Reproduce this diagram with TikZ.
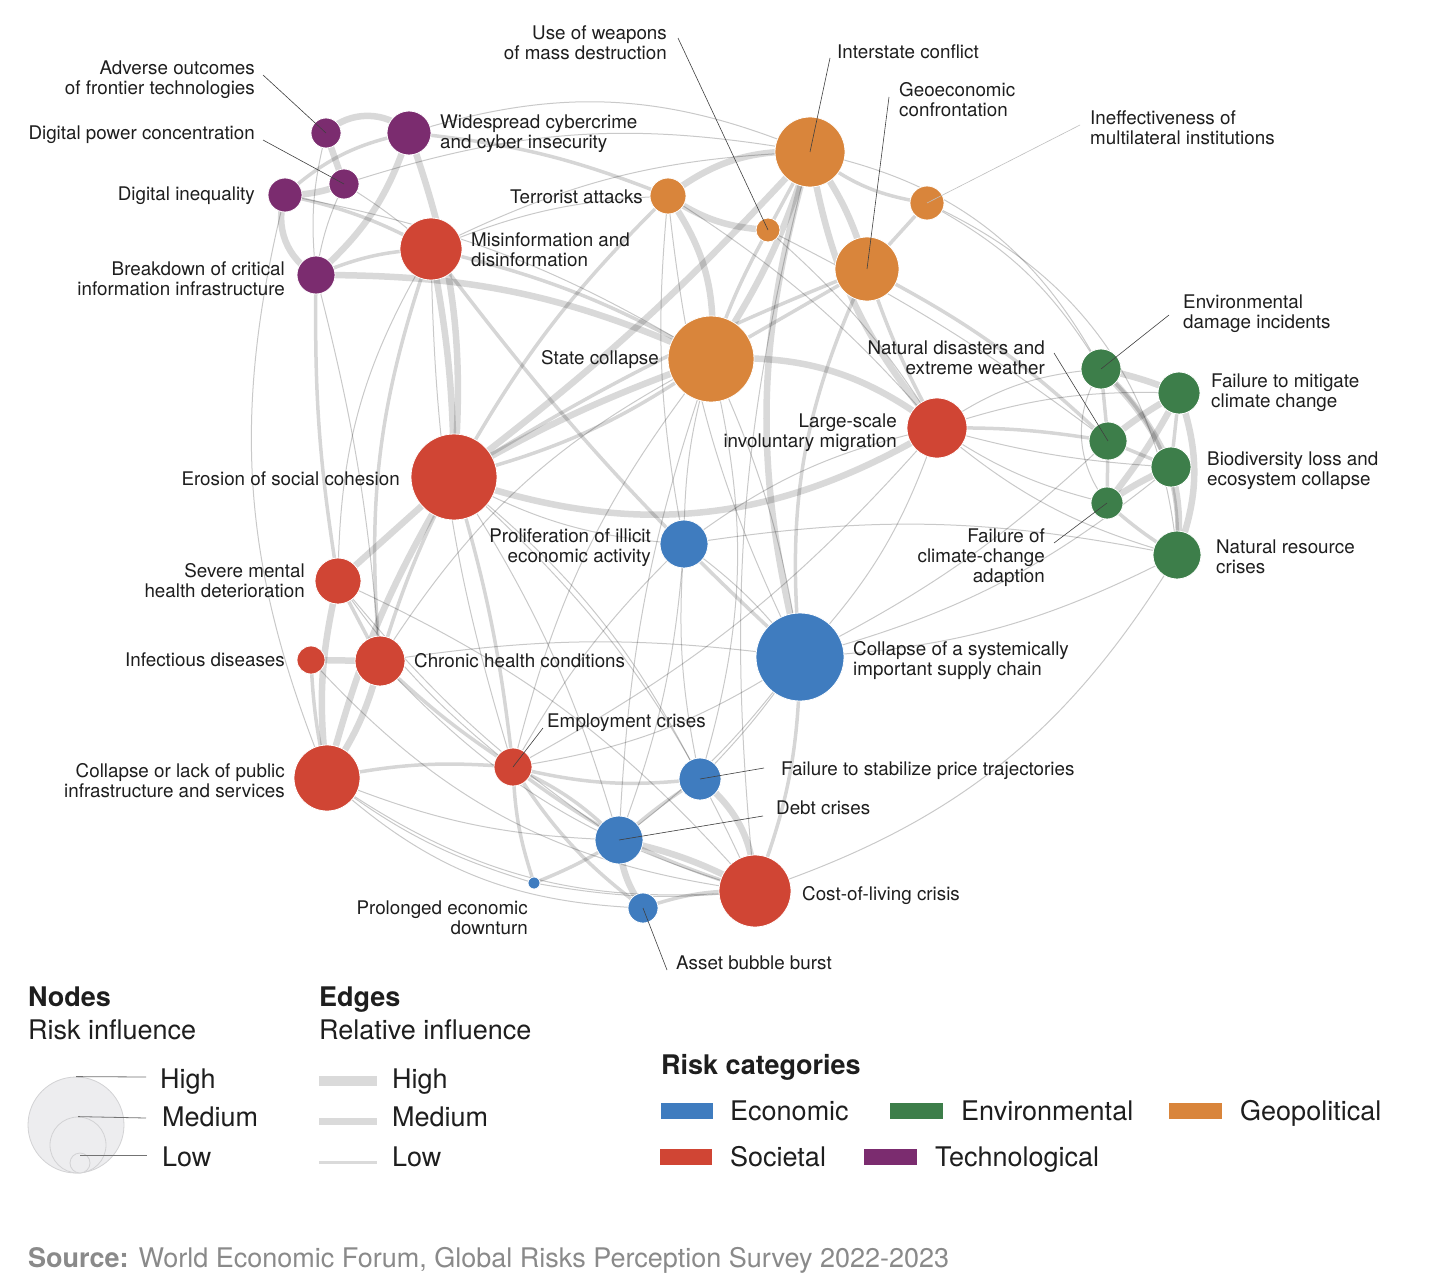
\documentclass[tikz,border=0pt]{standalone}
\usepackage{fontspec}
\setmainfont{TeX Gyre Heros}
\usetikzlibrary{backgrounds}
\definecolor{cEco}{HTML}{3F7CBF}
\definecolor{cEnv}{HTML}{3D7E4A}
\definecolor{cGeo}{HTML}{D9853B}
\definecolor{cSoc}{HTML}{D04534}
\definecolor{cTec}{HTML}{7B2C6F}
\definecolor{txt}{HTML}{1E1E1E}
\definecolor{srcgray}{HTML}{8A8A8A}
\definecolor{lgfill}{HTML}{EDEDEF}
\definecolor{lgdraw}{HTML}{D2D2D4}
\definecolor{swgray}{HTML}{DADADA}
\newcommand\E[4]{\draw[#1] (#2.center) to[#3] (#4.center);}
\begin{document}
\begin{tikzpicture}[x=1pt,y=-1pt,
  risk/.style={circle,inner sep=0pt,draw=white,line width=0.8pt,minimum size=#1},
  lbl/.style={font=\fontsize{18.8}{20}\selectfont,text=txt,inner sep=0pt},
  lr/.style={lbl,anchor=east,align=right},
  ll/.style={lbl,anchor=west,align=left},
  one/.style={text height=14pt,text depth=4pt},
  leader/.style={draw=black!75,line width=0.6pt},
  A/.style={draw=black,draw opacity=0.15,line width=6.5pt},
  B/.style={draw=black,draw opacity=0.16,line width=3.5pt},
  C/.style={draw=black,draw opacity=0.21,line width=1pt},
  lgt/.style={font=\fontsize{27}{30}\selectfont,text=txt,inner sep=0pt,anchor=west,text height=20pt,text depth=6pt},
  lgh/.style={font=\fontsize{27}{30}\selectfont\bfseries,text=txt,inner sep=0pt,anchor=west,text height=20pt,text depth=6pt},
  lgc/.style={circle,inner sep=0pt,draw=lgdraw,fill=lgfill,line width=0.8pt,minimum size=#1},
  lgl/.style={draw=black!55,line width=0.8pt}
]
\useasboundingbox (0,0) rectangle (1456,1276);

% ---------------- nodes ----------------
% Technological
\node[risk=30,fill=cTec] (adv) at (326,133) {};
\node[risk=44,fill=cTec] (cyber) at (409,133) {};
\node[risk=30,fill=cTec] (dpow) at (344,184) {};
\node[risk=34,fill=cTec] (dineq) at (285,195) {};
\node[risk=38,fill=cTec] (brk) at (316,275) {};
% Societal
\node[risk=62,fill=cSoc] (misinfo) at (431,249) {};
\node[risk=86,fill=cSoc] (erosion) at (454,477) {};
\node[risk=60,fill=cSoc] (migr) at (937,428) {};
\node[risk=46,fill=cSoc] (mental) at (338,581) {};
\node[risk=28,fill=cSoc] (infect) at (311,660) {};
\node[risk=50,fill=cSoc] (chronic) at (380,661) {};
\node[risk=66,fill=cSoc] (pubinf) at (327,778) {};
\node[risk=38,fill=cSoc] (employ) at (513,767) {};
\node[risk=72,fill=cSoc] (col) at (755,891) {};
% Geopolitical
\node[risk=36,fill=cGeo] (terror) at (668,196) {};
\node[risk=24,fill=cGeo] (wmd) at (768,230) {};
\node[risk=70,fill=cGeo] (inter) at (810,152) {};
\node[risk=34,fill=cGeo] (ineff) at (927,203) {};
\node[risk=64,fill=cGeo] (geo) at (867,269) {};
\node[risk=86,fill=cGeo] (state) at (711,359) {};
% Environmental
\node[risk=40,fill=cEnv] (envd) at (1101,369) {};
\node[risk=42,fill=cEnv] (mitig) at (1179,393) {};
\node[risk=38,fill=cEnv] (natd) at (1108,441) {};
\node[risk=40,fill=cEnv] (biod) at (1171,467) {};
\node[risk=32,fill=cEnv] (adapt) at (1107,503) {};
\node[risk=48,fill=cEnv] (natres) at (1177,555) {};
% Economic
\node[risk=48,fill=cEco] (illicit) at (684,544) {};
\node[risk=88,fill=cEco] (supply) at (800,657) {};
\node[risk=42,fill=cEco] (price) at (700,779) {};
\node[risk=48,fill=cEco] (debt) at (619,840) {};
\node[risk=12,fill=cEco] (prolong) at (534,883) {};
\node[risk=30,fill=cEco] (asset) at (643,908) {};

% ---------------- edges ----------------
\begin{pgfonlayer}{background}
\fill[white] (0,0) rectangle (1456,1276);
% technological
\E{A}{adv}{bend left=45}{cyber}
\E{A}{adv}{}{dpow}
\E{A}{dineq}{bend right=10}{dpow}
\E{A}{dineq}{bend right=40}{brk}
\E{A}{cyber}{bend left=15}{brk}
\E{B}{dineq}{bend left=15}{cyber}
\E{C}{dpow}{bend right=8}{brk}
\E{C}{adv}{bend right=10}{brk}
\E{B}{dineq}{bend left=8}{misinfo}
\E{C}{dpow}{bend left=5}{misinfo}
\E{B}{brk}{bend left=10}{misinfo}
\E{A}{cyber}{bend left=12}{erosion}
\E{A}{brk}{bend left=12}{state}
\E{C}{dineq}{bend right=18}{pubinf}
\E{B}{brk}{bend right=5}{mental}
\E{C}{brk}{bend left=5}{chronic}
\E{C}{dineq}{bend left=10}{state}
\E{B}{cyber}{bend left=8}{terror}
\E{C}{cyber}{bend left=20}{inter}
\E{C}{dpow}{bend left=14}{inter}
% misinformation
\E{A}{misinfo}{bend left=5}{erosion}
\E{C}{misinfo}{bend left=10}{terror}
\E{B}{misinfo}{bend left=8}{state}
\E{C}{misinfo}{bend left=12}{inter}
\E{B}{misinfo}{bend right=12}{chronic}
\E{C}{misinfo}{bend right=15}{mental}
\E{B}{misinfo}{bend right=5}{supply}
\E{C}{misinfo}{bend right=8}{employ}
% erosion
\E{A}{erosion}{bend left=5}{state}
\E{B}{erosion}{bend right=10}{state}
\E{A}{erosion}{bend right=5}{inter}
\E{A}{erosion}{bend right=25}{migr}
\E{A}{erosion}{}{mental}
\E{A}{erosion}{bend right=8}{pubinf}
\E{B}{erosion}{bend right=5}{chronic}
\E{B}{erosion}{bend left=5}{employ}
\E{C}{erosion}{bend left=12}{col}
\E{C}{erosion}{bend right=12}{illicit}
\E{B}{erosion}{bend left=8}{terror}
\E{C}{erosion}{bend left=12}{price}
\E{C}{erosion}{bend left=8}{debt}
\E{B}{erosion}{bend left=5}{geo}
% state collapse
\E{A}{state}{bend right=20}{terror}
\E{A}{state}{bend right=8}{inter}
\E{B}{state}{}{geo}
\E{A}{state}{bend left=20}{migr}
\E{C}{state}{bend right=8}{illicit}
\E{C}{state}{bend left=8}{supply}
\E{C}{state}{bend right=12}{employ}
\E{C}{state}{bend right=15}{chronic}
\E{B}{state}{bend left=5}{wmd}
\E{C}{state}{bend right=8}{debt}
\E{C}{state}{bend left=15}{price}
% geopolitical
\E{A}{terror}{bend left=20}{inter}
\E{A}{terror}{bend right=15}{wmd}
\E{B}{inter}{}{wmd}
\E{A}{inter}{bend left=10}{geo}
\E{B}{inter}{bend right=15}{ineff}
\E{B}{geo}{}{ineff}
\E{A}{inter}{bend right=15}{migr}
\E{A}{inter}{bend right=15}{supply}
\E{B}{geo}{bend right=15}{supply}
\E{C}{inter}{bend right=10}{col}
\E{B}{geo}{bend right=5}{migr}
\E{B}{geo}{bend left=8}{natd}
\E{C}{ineff}{bend left=30}{natres}
\E{C}{ineff}{bend left=15}{envd}
\E{C}{inter}{bend left=25}{envd}
\E{C}{terror}{bend right=8}{illicit}
\E{C}{wmd}{bend left=8}{migr}
\E{C}{wmd}{bend left=5}{natd}
\E{C}{terror}{bend left=8}{migr}
\E{C}{terror}{bend right=10}{supply}
% migration
\E{B}{migr}{bend left=5}{natd}
\E{C}{migr}{bend left=15}{envd}
\E{C}{migr}{bend right=10}{adapt}
\E{C}{migr}{bend right=12}{natres}
\E{C}{migr}{bend left=10}{mitig}
\E{C}{migr}{bend left=12}{supply}
\E{C}{migr}{bend right=12}{illicit}
\E{C}{migr}{bend left=10}{employ}
\E{C}{migr}{bend right=6}{biod}
% environmental
\E{A}{envd}{bend left=5}{mitig}
\E{A}{envd}{bend left=10}{biod}
\E{B}{envd}{}{natd}
\E{C}{envd}{bend right=35}{adapt}
\E{A}{mitig}{bend right=5}{natd}
\E{B}{mitig}{}{biod}
\E{A}{mitig}{bend left=20}{natres}
\E{A}{mitig}{bend left=5}{adapt}
\E{B}{natd}{}{biod}
\E{B}{natd}{}{adapt}
\E{A}{biod}{bend left=10}{natres}
\E{A}{biod}{bend right=5}{adapt}
\E{B}{adapt}{bend right=5}{natres}
\E{B}{envd}{bend left=25}{natres}
\E{C}{natres}{bend left=20}{col}
\E{C}{natres}{bend left=12}{supply}
\E{C}{natd}{bend left=8}{supply}
\E{C}{biod}{bend left=12}{supply}
\E{C}{natres}{bend right=10}{illicit}
% economic / societal bottom
\E{B}{supply}{bend left=10}{col}
\E{C}{supply}{bend left=12}{employ}
\E{C}{supply}{bend left=8}{debt}
\E{C}{supply}{bend left=5}{price}
\E{C}{supply}{bend right=8}{illicit}
\E{C}{supply}{bend right=8}{chronic}
\E{A}{price}{bend left=25}{col}
\E{B}{price}{bend right=5}{debt}
\E{B}{price}{bend left=10}{employ}
\E{A}{debt}{bend left=8}{col}
\E{A}{debt}{bend right=15}{asset}
\E{B}{debt}{bend left=5}{prolong}
\E{B}{debt}{bend right=10}{employ}
\E{B}{asset}{bend left=10}{col}
\E{B}{asset}{bend left=10}{employ}
\E{B}{employ}{bend right=10}{col}
\E{B}{employ}{bend right=8}{prolong}
\E{B}{employ}{bend right=8}{pubinf}
\E{B}{employ}{bend left=5}{chronic}
\E{C}{employ}{bend left=8}{mental}
\E{C}{prolong}{bend right=8}{col}
\E{C}{prolong}{bend left=10}{pubinf}
\E{A}{chronic}{}{infect}
\E{B}{chronic}{}{mental}
\E{A}{chronic}{bend left=10}{pubinf}
\E{B}{infect}{bend right=5}{pubinf}
\E{A}{mental}{bend right=10}{pubinf}
\E{C}{mental}{bend left=12}{col}
\E{C}{pubinf}{bend right=20}{col}
\E{C}{pubinf}{bend right=10}{debt}
\E{C}{illicit}{bend right=8}{employ}
\E{C}{illicit}{bend left=8}{debt}
\E{C}{illicit}{bend right=8}{price}
\E{C}{chronic}{bend right=15}{col}
\E{C}{mental}{bend right=8}{debt}
\E{C}{infect}{bend right=20}{col}
\E{C}{asset}{bend left=20}{pubinf}
\end{pgfonlayer}

% ---------------- leader lines ----------------
\coordinate (advL) at (263,75);
\coordinate (dpowL) at (263,140);
\coordinate (wmdL) at (678,38);
\coordinate (interL) at (830,58);
\coordinate (geoL) at (889,97);
\coordinate (ineffL) at (1080,125);
\coordinate (natdL) at (1054,353);
\coordinate (envdL) at (1169,315);
\coordinate (adaptL) at (1054,543);
\coordinate (employL) at (543,728);
\coordinate (priceL) at (764,768);
\coordinate (debtL) at (763,816);
\coordinate (assetL) at (667,970);
\draw[leader] (advL) -- (adv.center);
\draw[leader] (dpowL) -- (dpow.center);
\draw[leader] (wmdL) -- (wmd.center);
\draw[leader] (interL) -- (inter.center);
\draw[leader] (geoL) -- (geo.center);
\draw[draw=black!25,line width=0.6pt] (ineffL) -- (ineff.center);
\draw[leader] (natdL) -- (natd.center);
\draw[leader] (envdL) -- (envd.center);
\draw[leader] (adaptL) -- (adapt.center);
\draw[leader] (employL) -- (employ.center);
\draw[leader] (priceL) -- (price.center);
\draw[leader] (debtL) -- (debt.center);
\draw[leader] (assetL) -- (asset.center);

% ---------------- labels ----------------
\node[lr] (tadv) at (255,80) {Adverse outcomes\\of frontier technologies};
\node[lr,one] (tdpow) at (255,135) {Digital power concentration};
\node[lr,one] (tdineq) at (255,196) {Digital inequality};
\node[lr] (tbrk) at (285,279) {Breakdown of critical\\information infrastructure};
\node[ll] (tcyber) at (440,134) {Widespread cybercrime\\and cyber insecurity};
\node[ll] (tmisinfo) at (471,250) {Misinformation and\\disinformation};
\node[lr] (twmd) at (667,43) {Use of weapons\\of mass destruction};
\node[ll,one] (tinter) at (837,54) {Interstate conflict};
\node[ll] (tgeo) at (899,100) {Geoeconomic\\confrontation};
\node[ll] (tineff) at (1090,128) {Ineffectiveness of\\multilateral institutions};
\node[lr,one] (tterror) at (643,199) {Terrorist attacks};
\node[lr,one] (tstate) at (659,359) {State collapse};
\node[lr] (tnatd) at (1045,358) {Natural disasters and\\extreme weather};
\node[ll] (tenvd) at (1183,314) {Environmental\\damage incidents};
\node[ll] (tmitig) at (1211,393) {Failure to mitigate\\climate change};
\node[ll] (tbiod) at (1207,471) {Biodiversity loss and\\ecosystem collapse};
\node[ll] (tnatres) at (1216,557) {Natural resource\\crises};
\node[lr] (tadapt) at (1045,558) {Failure of\\climate-change\\adaption};
\node[lr] (tmigr) at (897,433) {Large-scale\\involuntary migration};
\node[lr,one] (terosion) at (400,480) {Erosion of social cohesion};
\node[lr] (tillicit) at (651,548) {Proliferation of illicit\\economic activity};
\node[lr] (tmental) at (305,581) {Severe mental\\health deterioration};
\node[lr,one] (tinfect) at (285,661) {Infectious diseases};
\node[ll,one] (tchronic) at (414,662) {Chronic health conditions};
\node[ll] (tsupply) at (853,661) {Collapse of a systemically\\important supply chain};
\node[ll,one] (temploy) at (547,722) {Employment crises};
\node[lr] (tpubinf) at (285,781) {Collapse or lack of public\\infrastructure and services};
\node[ll,one] (tprice) at (781,770) {Failure to stabilize price trajectories};
\node[ll,one] (tdebt) at (776,809) {Debt crises};
\node[ll,one] (tcol) at (802,895) {Cost-of-living crisis};
\node[lr] (tprolong) at (528,918) {Prolonged economic\\downturn};
\node[ll,one] (tasset) at (676,964) {Asset bubble burst};

% ---------------- legend: nodes ----------------
\node[lgh] (hNodes) at (28,999) {Nodes};
\node[lgt] (hRisk) at (28,1032) {Risk influence};
\node[lgc=96] (lgH) at (76,1125) {};
\node[lgc=56] (lgM) at (78,1145) {};
\node[lgc=20] (lgL) at (80,1163) {};
\coordinate (lgHe) at (146,1077);
\coordinate (lgMe) at (146,1118);
\coordinate (lgLe) at (147,1155);
\coordinate (lgLs) at (80,1155);
\draw[lgl] (lgH.north) -- (lgHe);
\draw[lgl] (lgM.north) -- (lgMe);
\draw[lgl] (lgLs) -- (lgLe);
\node[lgt] (tlgH) at (160,1081) {High};
\node[lgt] (tlgM) at (162,1119) {Medium};
\node[lgt] (tlgL) at (162,1159) {Low};

% ---------------- legend: edges ----------------
\node[lgh] (hEdges) at (319,999) {Edges};
\node[lgt] (hRel) at (319,1032) {Relative influence};
\fill[swgray] (319,1076) rectangle (377,1086);
\fill[swgray] (319,1118) rectangle (377,1125);
\fill[swgray] (319,1161) rectangle (377,1164);
\node[lgt] (teH) at (392,1081) {High};
\node[lgt] (teM) at (392,1119) {Medium};
\node[lgt] (teL) at (392,1159) {Low};

% ---------------- legend: categories ----------------
\node[lgh] (hCat) at (661,1067) {Risk categories};
\fill[cEco] (661,1103) rectangle (713,1119);
\fill[cEnv] (890,1103) rectangle (943,1119);
\fill[cGeo] (1169,1103) rectangle (1222,1119);
\fill[cSoc] (660,1149) rectangle (712,1165);
\fill[cTec] (864,1149) rectangle (917,1165);
\node[lgt] (tEco) at (730,1113) {Economic};
\node[lgt] (tEnv) at (961,1113) {Environmental};
\node[lgt] (tGeo) at (1240,1113) {Geopolitical};
\node[lgt] (tSoc) at (730,1159) {Societal};
\node[lgt] (tTec) at (935,1159) {Technological};

% ---------------- source ----------------
\node[font=\fontsize{27}{30}\selectfont,text=srcgray,inner sep=0pt,anchor=west,text height=20pt,text depth=6pt] (src) at (28,1260)
  {\textbf{Source:} World Economic Forum, Global Risks Perception Survey 2022-2023};
\end{tikzpicture}
\end{document}
